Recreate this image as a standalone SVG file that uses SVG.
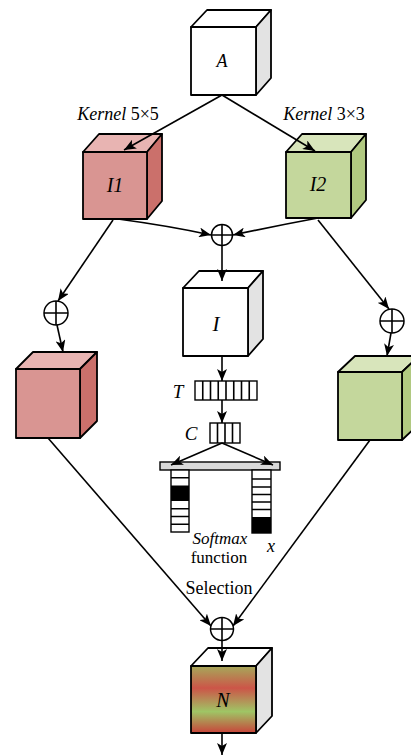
<svg xmlns="http://www.w3.org/2000/svg" width="411" height="756" viewBox="0 0 411 756">
  <style>
    .edge { stroke: #000; stroke-width: 1.6; fill: none; stroke-linejoin: round; }
    .face { stroke: #000; stroke-width: 1.8; stroke-linejoin: round; }
    .lbl { font-family: "Liberation Serif", "DejaVu Serif", serif; fill: #000; }
    .it { font-style: italic; }
    .sum { fill: #fff; stroke: #000; stroke-width: 1.5; }
    .cell { fill: #fff; stroke: #000; stroke-width: 1.4; }
  </style>
  <defs>
    <marker id="arrow" viewBox="0 0 12 10" refX="12" refY="5" markerWidth="12" markerHeight="10" markerUnits="userSpaceOnUse" orient="auto">
      <path d="M0,0 L12,5 L0,10 L3,5 Z" fill="#000"/>
    </marker>
    <linearGradient id="mix" x1="0" y1="0" x2="0" y2="1">
      <stop offset="0" stop-color="#a6a95a"/>
      <stop offset="0.33" stop-color="#cc5548"/>
      <stop offset="0.68" stop-color="#9fc565"/>
      <stop offset="1" stop-color="#c8443a"/>
    </linearGradient>
  </defs>

  <!-- input cube A -->
  <g id="cube-A">
    <polygon class="face" points="191,27 207,10 271,10 256,27" fill="#fff"/>
    <polygon class="face" points="256,27 271,10 271,78 256,95" fill="#e3e3e3"/>
    <rect class="face" x="191" y="27" width="65" height="68" fill="#fff"/>
    <text class="lbl it" x="222" y="67" font-family="Liberation Serif, serif" font-size="18" text-anchor="middle">A</text>
  </g>

  <text class="lbl" x="118" y="120" font-family="Liberation Serif, serif" font-size="18" text-anchor="middle"><tspan class="it">Kernel</tspan> 5×5</text>
  <text class="lbl" x="324" y="120" font-family="Liberation Serif, serif" font-size="18" text-anchor="middle"><tspan class="it">Kernel</tspan> 3×3</text>

  <!-- branch cube I1 -->
  <g id="cube-I1">
    <polygon class="face" points="83,152 99,134 162,134 147,152" fill="#e8b4b2"/>
    <polygon class="face" points="147,152 162,134 162,201 147,219" fill="#cb706b"/>
    <rect class="face" x="83" y="152" width="64" height="67" fill="#d99592"/>
    <text class="lbl it" x="115" y="192" font-family="Liberation Serif, serif" font-size="20" text-anchor="middle">I1</text>
  </g>

  <!-- branch cube I2 -->
  <g id="cube-I2">
    <polygon class="face" points="286,152 302,134 366,134 351,152" fill="#d8e5bb"/>
    <polygon class="face" points="351,152 366,134 366,200 351,218" fill="#b1c981"/>
    <rect class="face" x="286" y="152" width="65" height="66" fill="#c4d79c"/>
    <text class="lbl it" x="318" y="191" font-family="Liberation Serif, serif" font-size="20" text-anchor="middle">I2</text>
  </g>

  <!-- left feature cube -->
  <g id="cube-left">
    <polygon class="face" points="16,369 33,352 97,352 80,369" fill="#e8b4b2"/>
    <polygon class="face" points="80,369 97,352 97,421 80,438" fill="#cb706b"/>
    <rect class="face" x="16" y="369" width="64" height="69" fill="#d99592"/>
  </g>

  <!-- right feature cube -->
  <g id="cube-right">
    <polygon class="face" points="338,372 355,356 419,356 402,372" fill="#d8e5bb"/>
    <polygon class="face" points="402,372 419,356 419,424 402,440" fill="#b1c981"/>
    <rect class="face" x="338" y="372" width="64" height="68" fill="#c4d79c"/>
  </g>

  <!-- fused cube I -->
  <g id="cube-I">
    <polygon class="face" points="183,288 199,271 263,271 248,288" fill="#fff"/>
    <polygon class="face" points="248,288 263,271 263,339 248,356" fill="#e3e3e3"/>
    <rect class="face" x="183" y="288" width="65" height="68" fill="#fff"/>
    <text class="lbl it" x="216" y="331" font-family="Liberation Serif, serif" font-size="21" text-anchor="middle">I</text>
  </g>

  <!-- T vector -->
  <g id="vector-T">
    <rect class="cell" x="195" y="381" width="62" height="19"/>
    <path class="edge" d="M202.75,381 V400 M210.5,381 V400 M218.25,381 V400 M226,381 V400 M233.75,381 V400 M241.5,381 V400 M249.25,381 V400"/>
    <text class="lbl it" x="178" y="398" font-family="Liberation Serif, serif" font-size="19" text-anchor="middle">T</text>
  </g>

  <!-- C vector -->
  <g id="vector-C">
    <rect class="cell" x="210" y="423" width="30" height="20"/>
    <path class="edge" d="M217.5,423 V443 M225,423 V443 M232.5,423 V443"/>
    <text class="lbl it" x="191" y="440" font-family="Liberation Serif, serif" font-size="19" text-anchor="middle">C</text>
  </g>

  <!-- softmax selection weights -->
  <g id="softmax">
    <rect x="160" y="462" width="120" height="8" fill="#d9d9d9" stroke="#000" stroke-width="1.4"/>
    <rect class="cell" x="171" y="470" width="18" height="62"/>
    <rect x="171" y="485.5" width="18" height="15.5" fill="#000"/>
    <path class="edge" d="M171,477.75 H189 M171,508.75 H189 M171,516.5 H189 M171,524.25 H189"/>
    <rect class="cell" x="252" y="470" width="19" height="63"/>
    <rect x="252" y="517" width="19" height="16" fill="#000"/>
    <path class="edge" d="M252,479 H271 M252,487 H271 M252,494.5 H271 M252,502 H271 M252,509.5 H271"/>
    <text class="lbl it" x="220" y="544" font-family="Liberation Serif, serif" font-size="17" text-anchor="middle">Softmax</text>
    <text class="lbl" x="219" y="563" font-family="Liberation Serif, serif" font-size="17" text-anchor="middle">function</text>
    <text class="lbl it" x="271" y="552" font-family="Liberation Serif, serif" font-size="18" text-anchor="middle">x</text>
  </g>

  <text class="lbl" x="219" y="594" font-family="Liberation Serif, serif" font-size="18" text-anchor="middle">Selection</text>

  <!-- output cube N -->
  <g id="cube-N">
    <polygon class="face" points="191,666 208,648 272,648 256,666" fill="#fff"/>
    <polygon class="face" points="256,666 272,648 272,716 256,733" fill="#e3e3e3"/>
    <rect class="face" x="191" y="666" width="65" height="67" fill="url(#mix)"/>
    <text class="lbl it" x="223" y="707" font-family="Liberation Serif, serif" font-size="20" text-anchor="middle">N</text>
  </g>

  <!-- connectors, drawn over the cube faces they point into -->
  <g id="connectors">
    <line class="edge" x1="222" y1="95" x2="124" y2="150" marker-end="url(#arrow)"/>
    <line class="edge" x1="222" y1="95" x2="315" y2="151" marker-end="url(#arrow)"/>
    <path class="edge" d="M118,219 Q170,226 211,235" marker-end="url(#arrow)"/>
    <path class="edge" d="M318,218 Q275,226 233,235" marker-end="url(#arrow)"/>
    <line class="edge" x1="222" y1="246" x2="222" y2="281" marker-end="url(#arrow)"/>
    <line class="edge" x1="113" y1="220" x2="58" y2="301" marker-end="url(#arrow)"/>
    <line class="edge" x1="57" y1="325" x2="63" y2="352" marker-end="url(#arrow)"/>
    <line class="edge" x1="318" y1="220" x2="389" y2="309" marker-end="url(#arrow)"/>
    <line class="edge" x1="391" y1="333" x2="387" y2="356" marker-end="url(#arrow)"/>
    <line class="edge" x1="222" y1="356" x2="222" y2="381" marker-end="url(#arrow)"/>
    <line class="edge" x1="222" y1="400" x2="222" y2="423" marker-end="url(#arrow)"/>
    <line class="edge" x1="222" y1="443" x2="171" y2="465" marker-end="url(#arrow)"/>
    <line class="edge" x1="222" y1="443" x2="273" y2="465" marker-end="url(#arrow)"/>
    <line class="edge" x1="48" y1="438" x2="211" y2="626" marker-end="url(#arrow)"/>
    <line class="edge" x1="370" y1="440" x2="233" y2="626" marker-end="url(#arrow)"/>
    <line class="edge" x1="222" y1="640" x2="222" y2="661" marker-end="url(#arrow)"/>
    <line class="edge" x1="222" y1="733" x2="222" y2="755" marker-end="url(#arrow)"/>
  </g>

  <!-- summation nodes -->
  <g id="sum-center">
    <circle class="sum" cx="222" cy="235" r="10.5"/>
    <path class="edge" d="M211.5,235 H232.5 M222,224.5 V245.5"/>
  </g>
  <g id="sum-left">
    <circle class="sum" cx="56" cy="313" r="12"/>
    <path class="edge" d="M44,313 H68 M56,301 V325"/>
  </g>
  <g id="sum-right">
    <circle class="sum" cx="392" cy="321" r="12"/>
    <path class="edge" d="M380,321 H404 M392,309 V333"/>
  </g>
  <g id="sum-final">
    <circle class="sum" cx="222" cy="629" r="11.5"/>
    <path class="edge" d="M210.5,629 H233.5 M222,617.5 V640.5"/>
  </g>
</svg>
